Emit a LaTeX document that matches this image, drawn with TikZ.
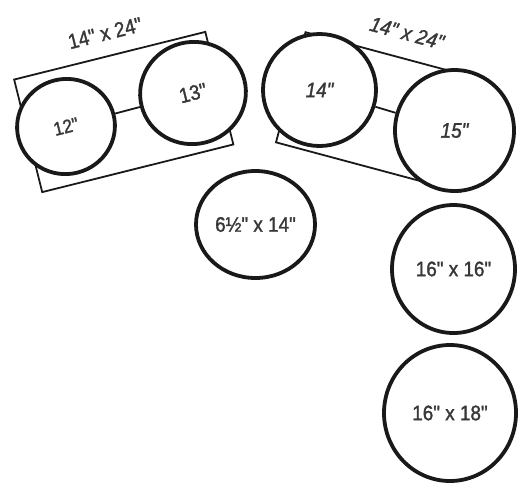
\documentclass[tikz,border=0pt]{standalone}
\usepackage{fontspec}
\setmainfont{Liberation Sans}[Ligatures=TeXOff, FakeStretch=0.9, FakeBold=1.4]
\usetikzlibrary{shapes.geometric}
\begin{document}
\begin{tikzpicture}[x=1pt,y=-1pt,
  drum/.style={ellipse, draw=black!90, line width=3.8pt, fill=white, inner sep=0pt,
    text=black!78, font=\fontsize{21}{21}\selectfont},
  shell/.style={rectangle, draw=black!90, line width=1.8pt, inner sep=0pt},
  link/.style={draw=black!90, line width=1.8pt},
  lbl/.style={inner sep=0pt, text=black!78, font=\fontsize{21}{21}\selectfont}]
\useasboundingbox (0,0) rectangle (518,483);
% left group
\node[shell, rotate=14, minimum width=197, minimum height=116] (rl) at (123.75,112) {};
\node[lbl, rotate=14] (tl) at (105,33) {14" x 24"};
\node[drum, rotate=14, minimum width=98, minimum height=95, font=\fontsize{19}{19}\selectfont] (c12) at (66,126.5) {12"};
\node[drum, rotate=14, minimum width=106, minimum height=102] (c13) at (193,93) {13"};
\draw[link] (c12) -- (c13);
% right group
\node[shell, rotate=-15, minimum width=191, minimum height=114] (rr) at (383,112) {};
\node[lbl, rotate=-15, font=\fontsize{21}{21}\selectfont\itshape] (tr) at (407,33) {14" x 24"};
\node[drum, minimum width=113, minimum height=112, font=\fontsize{21}{21}\selectfont\itshape] (c14) at (319.5,90) {14"};
\node[drum, minimum width=119, minimum height=121, font=\fontsize{21}{21}\selectfont\itshape] (c15) at (454.5,130.5) {15"};
\draw[link] (c14) -- (c15);
% single drums
\node[drum, minimum width=119, minimum height=107] (c6) at (255.5,224.5) {6½" x 14"};
\node[drum, minimum width=123, minimum height=128] (c16a) at (453.5,269) {16" x 16"};
\node[drum, minimum width=132, minimum height=136] (c16b) at (450,413) {16" x 18"};
\end{tikzpicture}
\end{document}
